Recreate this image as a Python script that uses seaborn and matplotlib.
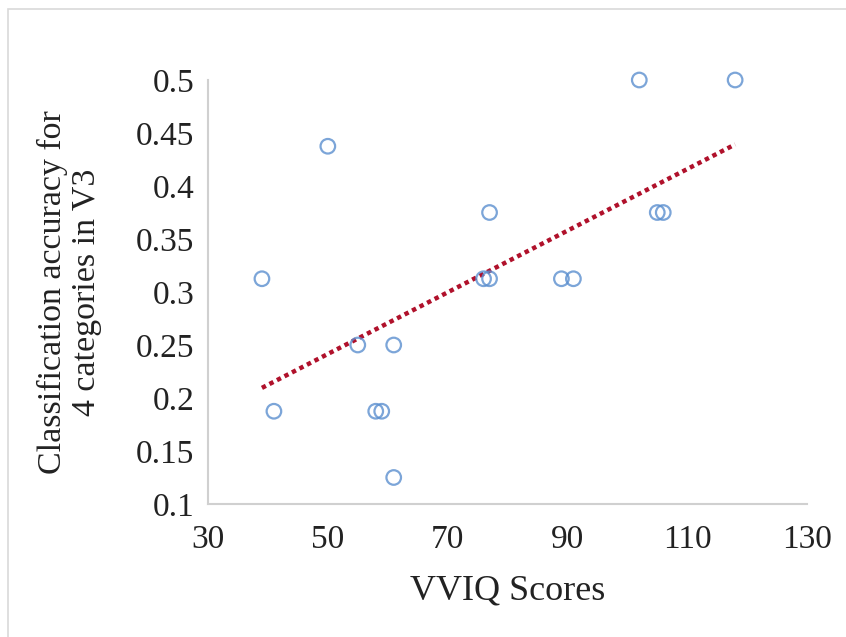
import numpy as np
import pandas as pd
import matplotlib
matplotlib.use("Agg")
import matplotlib.pyplot as plt
import seaborn as sns
from matplotlib.patches import Rectangle
from matplotlib.ticker import FuncFormatter

# data
vviq_scores = [39, 41, 50, 55, 58, 59, 61, 61, 76, 77, 77, 89, 91, 102, 105, 106, 118]
accuracy = [0.3125, 0.1875, 0.4375, 0.25, 0.1875, 0.1875, 0.25, 0.125, 0.3125,
            0.3125, 0.375, 0.3125, 0.3125, 0.5, 0.375, 0.375, 0.5]
x_ticks = [30, 50, 70, 90, 110, 130]
y_ticks = [0.1, 0.15, 0.2, 0.25, 0.3, 0.35, 0.4, 0.45, 0.5]

df = pd.DataFrame({"vviq": vviq_scores, "acc": accuracy})

sns.set_style("white")
plt.rcParams["font.family"] = ["Liberation Serif", "DejaVu Serif"]

fig = plt.figure(figsize=(8.46, 6.37), dpi=100)
ax = fig.add_axes([0.2459, 0.2088, 0.708, 0.6656])

# chart area border (cut off at right and bottom like the source)
fig.patches.append(Rectangle((8 / 846, -0.05), 1.1, 1 - 9 / 637 + 0.05,
                             transform=fig.transFigure, fill=False,
                             edgecolor="#d9d9d9", linewidth=1.2))

sns.regplot(
    data=df, x="vviq", y="acc", ax=ax, ci=None,
    scatter_kws=dict(s=110, facecolors="none", edgecolors="#5b8fcf",
                     linewidths=1.6, clip_on=False, zorder=3),
    line_kws=dict(color="#b0112b", linewidth=3.2, linestyle=(0, (1, 0.9))),
)

ax.set_xlim(30, 130)
ax.set_ylim(0.1, 0.5)
ax.set_xticks(x_ticks)
ax.set_yticks(y_ticks)
ax.yaxis.set_major_formatter(FuncFormatter(lambda v, _: f"{v:g}"))
ax.tick_params(axis="both", length=0, labelsize=24, colors="#222222")
ax.tick_params(axis="x", pad=15)
ax.tick_params(axis="y", pad=10)

for side in ["top", "right"]:
    ax.spines[side].set_visible(False)
for side in ["left", "bottom"]:
    ax.spines[side].set_color("#d0d0d0")
    ax.spines[side].set_linewidth(1.5)

ax.set_xlabel("VVIQ Scores", fontsize=26, labelpad=14, color="#222222")
ax.set_ylabel("Classification accuracy for\n4 categories in V3", fontsize=24.5,
              labelpad=24, color="#222222", linespacing=1.15)

fig.savefig("out.png", dpi=100)
